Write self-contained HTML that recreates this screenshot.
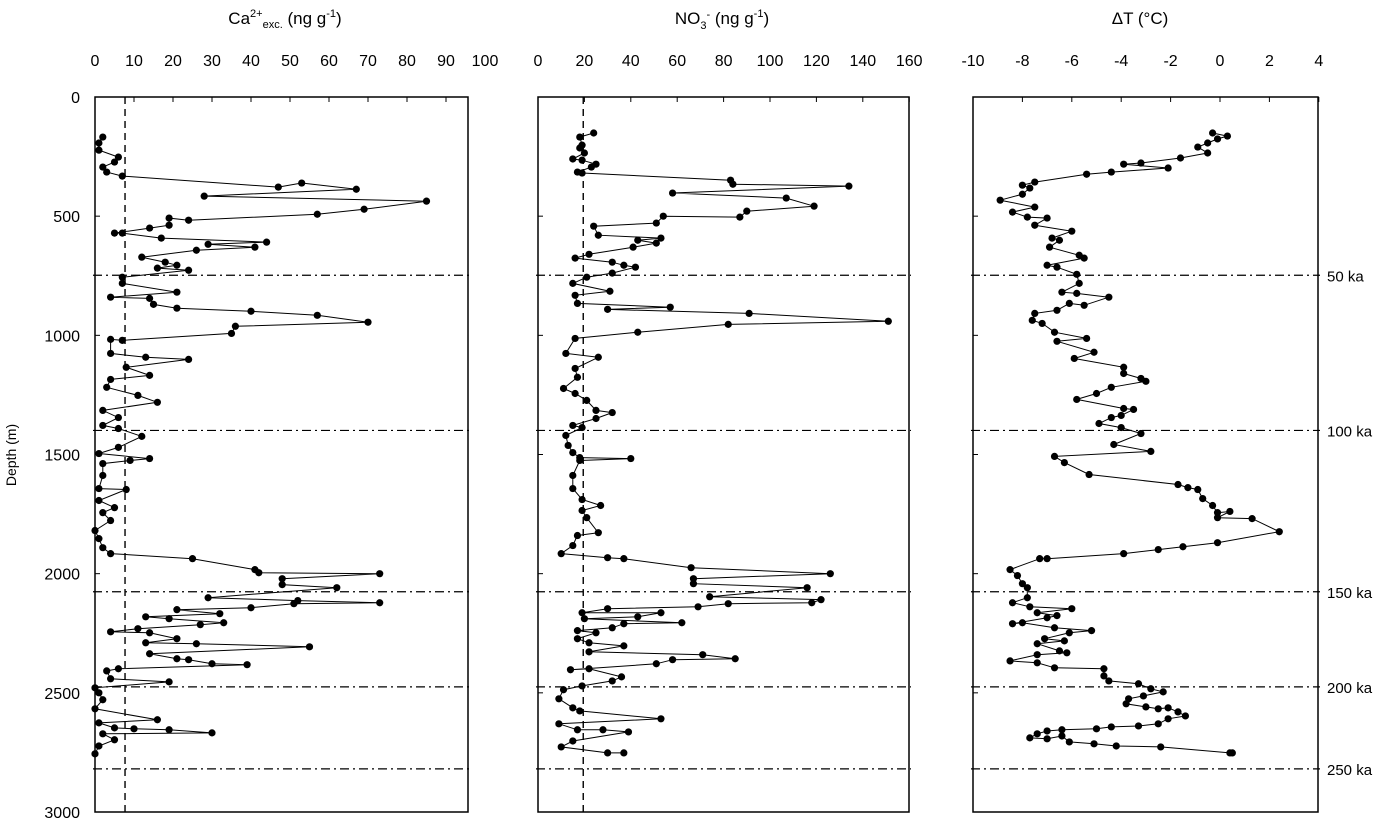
<!DOCTYPE html>
<html><head><meta charset="utf-8">
<style>
html,body{margin:0;padding:0;background:#fff;}
svg{display:block;font-family:"Liberation Sans",Arial,sans-serif;}
</style></head>
<body>
<svg id="chart" width="1400" height="818" viewBox="0 0 1400 818" xmlns="http://www.w3.org/2000/svg">
  <g font-size="17" fill="#000">
    <text x="285" y="24" text-anchor="middle">Ca<tspan font-size="11" dy="-7">2+</tspan><tspan font-size="11" dy="11">exc.</tspan><tspan dy="-4"> (ng g</tspan><tspan font-size="11" dy="-7">-1</tspan><tspan dy="7">)</tspan></text>
    <text x="722" y="24" text-anchor="middle">NO<tspan font-size="11" dy="5">3</tspan><tspan font-size="11" dy="-11">-</tspan><tspan dy="6"> (ng g</tspan><tspan font-size="11" dy="-7">-1</tspan><tspan dy="7">)</tspan></text>
    <text x="1140" y="24" text-anchor="middle">ΔT (°C)</text>
    <text transform="translate(16,455) rotate(-90)" text-anchor="middle" font-size="14">Depth (m)</text>
  </g>
  <g id="plot"></g>
</svg>
<script>
// ---- data ----
const caDepth=[168,193,223,252,273,294,315,332,378,361,387,416,437,471,492,517,508,538,550,571,571,592,609,618,630,643,672,693,706,718,727,756,782,819,840,845,870,886,899,916,945,962,992,1021,1017,1076,1092,1101,1134,1168,1185,1218,1252,1281,1315,1345,1378,1391,1424,1470,1496,1517,1525,1538,1588,1643,1647,1693,1723,1744,1777,1819,1853,1891,1916,1937,1983,1996,2000,2021,2046,2059,2101,2113,2122,2126,2143,2151,2168,2181,2189,2206,2214,2231,2244,2248,2273,2290,2294,2307,2336,2357,2361,2378,2382,2399,2408,2441,2454,2479,2500,2529,2567,2613,2626,2647,2651,2655,2668,2672,2697,2723,2756];
const caValues=[2,1,1,6,5,2,3,7,47,53,67,28,85,69,57,24,19,19,14,5,7,17,44,29,41,26,12,18,21,16,24,7,7,21,4,14,15,21,40,57,70,36,35,7,4,4,13,24,8,14,4,3,11,16,2,6,2,6,12,6,1,14,9,2,2,1,8,1,5,2,4,0,1,2,4,25,41,42,73,48,48,62,29,52,73,51,40,21,32,13,19,33,27,11,4,14,21,13,26,55,14,21,24,30,39,6,3,4,19,0,1,2,0,16,1,5,10,19,30,2,5,1,0];
const no3Depth=[151,168,202,214,235,260,265,282,294,315,319,349,366,374,403,424,458,479,504,500,529,542,580,592,601,613,630,660,676,693,706,714,739,756,782,815,832,866,882,891,908,941,954,987,1013,1076,1092,1139,1176,1223,1244,1273,1315,1324,1349,1378,1387,1420,1462,1492,1513,1517,1525,1588,1643,1689,1714,1735,1765,1828,1840,1882,1916,1933,1937,1975,2000,2021,2042,2059,2097,2109,2122,2126,2139,2147,2164,2164,2181,2189,2206,2210,2227,2239,2248,2273,2290,2303,2328,2340,2357,2361,2378,2403,2399,2433,2450,2471,2487,2525,2563,2576,2609,2630,2655,2655,2664,2702,2727,2752,2752];
const no3Values=[24,18,19,18,20,15,19,25,23,17,19,83,84,134,58,107,119,90,87,54,51,24,26,53,43,51,41,22,16,32,37,42,32,21,15,31,16,17,57,30,91,151,82,43,16,12,26,16,17,11,16,21,25,32,25,15,19,12,13,15,18,40,18,15,15,19,27,19,21,26,17,15,10,30,37,66,126,67,67,116,74,122,118,82,69,30,19,53,43,20,62,37,32,17,25,17,22,37,22,71,85,58,51,14,22,36,32,19,11,9,15,18,53,9,17,28,39,15,10,30,37];
const dtDepth=[151,164,176,193,210,235,256,277,282,298,315,324,357,370,382,408,433,462,483,504,508,538,563,592,601,630,664,676,706,714,744,782,819,824,840,874,866,895,908,937,950,987,1013,1025,1071,1097,1134,1160,1181,1193,1218,1244,1269,1307,1311,1336,1345,1370,1387,1412,1458,1487,1508,1534,1584,1626,1639,1647,1685,1714,1744,1739,1765,1769,1824,1870,1887,1899,1916,1937,1937,1983,2008,2042,2059,2101,2122,2139,2147,2164,2176,2185,2210,2206,2227,2239,2248,2273,2282,2294,2324,2332,2340,2366,2374,2395,2399,2429,2450,2462,2483,2496,2513,2525,2546,2559,2567,2563,2580,2597,2609,2630,2639,2643,2651,2655,2660,2672,2689,2693,2681,2706,2714,2723,2727,2752,2752];
const dtValues=[-0.3,0.3,-0.1,-0.5,-0.9,-0.5,-1.6,-3.2,-3.9,-2.1,-4.4,-5.4,-7.5,-8.0,-7.7,-8.0,-8.9,-7.5,-8.4,-7.8,-7.0,-7.5,-6.0,-6.8,-6.5,-6.9,-5.7,-5.5,-7.0,-6.6,-5.8,-5.7,-6.4,-5.8,-4.5,-5.5,-6.1,-6.6,-7.5,-7.6,-7.2,-6.7,-5.4,-6.6,-5.1,-5.9,-3.9,-3.9,-3.2,-3.0,-4.4,-5.0,-5.8,-3.9,-3.5,-4.0,-4.4,-4.9,-4.0,-3.2,-4.3,-2.8,-6.7,-6.3,-5.3,-1.7,-1.3,-0.9,-0.7,-0.3,-0.1,0.4,-0.1,1.3,2.4,-0.1,-1.5,-2.5,-3.9,-7.0,-7.3,-8.5,-8.2,-8.0,-7.8,-7.8,-8.4,-7.7,-6.0,-7.4,-6.6,-7.0,-8.4,-8.0,-6.7,-5.2,-6.1,-7.1,-6.3,-7.4,-6.5,-6.2,-7.4,-8.5,-7.4,-6.7,-4.7,-4.7,-4.5,-3.3,-2.8,-2.3,-3.1,-3.7,-3.8,-3.0,-2.5,-2.1,-1.7,-1.4,-2.1,-2.5,-3.3,-4.4,-5.0,-6.4,-7.0,-7.4,-7.7,-7.0,-6.4,-6.1,-5.1,-4.2,-2.4,0.4,0.5];
const caTicks=[0,10,20,30,40,50,60,70,80,90,100];
const no3Ticks=[0,20,40,60,80,100,120,140,160];
const dtTicks=[-10,-8,-6,-4,-2,0,2,4];
const depthTicks=[0,500,1000,1500,2000,2500,3000];
const stageDepths=[748,1399,2076,2475,2819];
const stageLabels=["50 ka","100 ka","150 ka","200 ka","250 ka"];
const caThreshold=[7.7];
const no3Threshold=[19.5];

// ---- scales ----
const Y0=97, Y1=812;
const yS=d=>Y0+d*(Y1-Y0)/3000;
const xCa=v=>95+v*3.9;
const xNo=v=>538+v*2.32;
const xDt=v=>973+(v+10)*24.7;
const NS="http://www.w3.org/2000/svg";
const plot=document.getElementById('plot');
function mk(tag,attrs,parent){const e=document.createElementNS(NS,tag);for(const k in attrs)e.setAttribute(k,attrs[k]);(parent||plot).appendChild(e);return e;}

function panel(key,x0,x1,xs,ticks,depths,vals,thr){
  const g=mk('g',{});
  
  
  // stage lines
  stageDepths.forEach((d,i)=>{
    const l=mk('line',{x1:x0-2,x2:x1+2,y1:yS(d),y2:yS(d),stroke:'#000','stroke-width':1.2,'stroke-dasharray':'9,4,2,4'},g);
    
    
  });
  thr.forEach(v=>{
    const l=mk('line',{x1:xs(v),x2:xs(v),y1:Y0,y2:Y1,stroke:'#000','stroke-width':1.4,'stroke-dasharray':'7,5'},g);
    
    
  });
  const r=mk('rect',{x:x0,y:Y0,width:x1-x0,height:Y1-Y0,fill:'none',stroke:'#000','stroke-width':1.5},g);
  
  
  ticks.forEach(t=>{
    const x=xs(t);
    if(x>=x0-1&&x<=x1+1){
      const tk=mk('line',{x1:x,x2:x,y1:Y0,y2:Y0+5,stroke:'#000','stroke-width':1},g);
      
      
    }
    const tx=mk('text',{x:x,y:66,'text-anchor':'middle','font-size':16},g);
    tx.textContent=t;
    
    
  });
  depthTicks.forEach(d=>{
    const tk=mk('line',{x1:x0,x2:x0+5,y1:yS(d),y2:yS(d),stroke:'#000','stroke-width':1},g);
    
    
  });
  const pts=depths.map((d,i)=>xs(vals[i]).toFixed(1)+','+yS(d).toFixed(1)).join(' ');
  const pl=mk('polyline',{points:pts,fill:'none',stroke:'#000','stroke-width':1},g);
  
  
  depths.forEach((d,i)=>{
    const c=mk('circle',{cx:xs(vals[i]),cy:yS(d),r:3.6,fill:'#000'},g);
    
    
  });
}
panel('ca',95,468,xCa,caTicks,caDepth,caValues,caThreshold);
panel('no3',538,909,xNo,no3Ticks,no3Depth,no3Values,no3Threshold);
panel('dt',973,1318,xDt,dtTicks,dtDepth,dtValues,[]);

depthTicks.forEach(d=>{
  const t=mk('text',{x:80,y:yS(d)+6,'text-anchor':'end','font-size':16});
  t.textContent=d;
  
  
});
stageDepths.forEach((d,i)=>{
  const t=mk('text',{x:1327,y:yS(d)+6,'font-size':15});
  t.textContent=stageLabels[i];
  
  
});
</script>
</body></html>
